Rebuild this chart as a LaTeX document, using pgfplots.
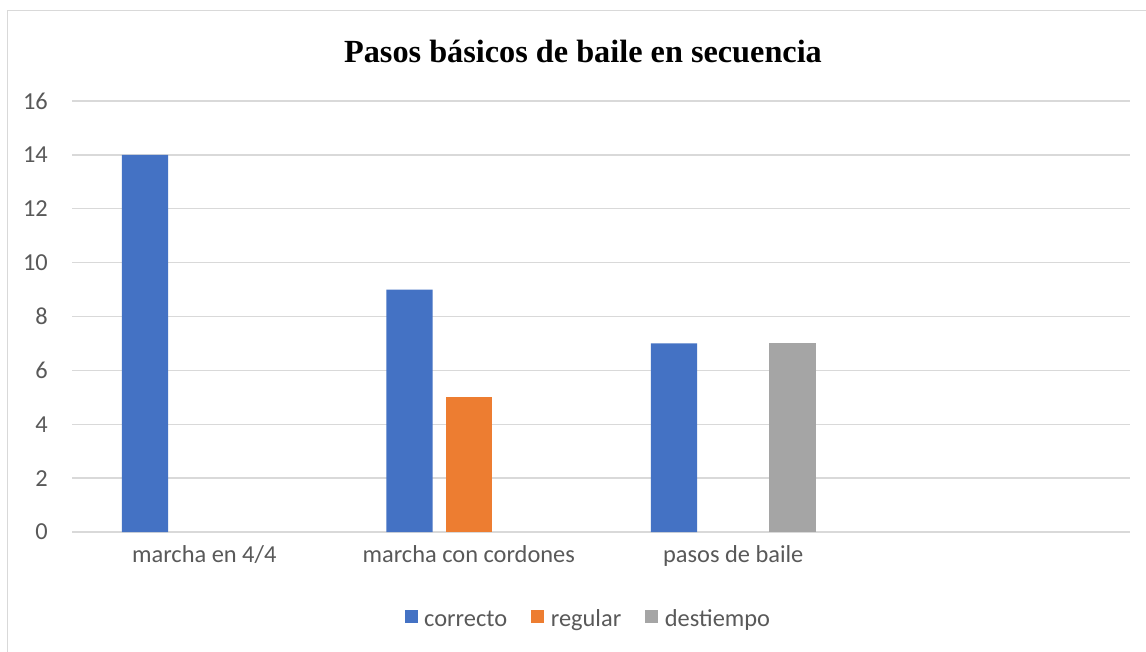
\documentclass[border=0pt]{standalone}
\usepackage{pgfplots}
\pgfplotsset{compat=1.18}
\usepackage{fontspec}
\setmainfont{Carlito}
\newfontfamily\titlefont{Liberation Serif}
\definecolor{cBlue}{HTML}{4472C4}
\definecolor{cOrange}{HTML}{ED7D31}
\definecolor{cGray}{HTML}{A5A5A5}
\definecolor{cGrid}{HTML}{D9D9D9}
\definecolor{cText}{HTML}{595959}
\begin{document}
\begin{tikzpicture}[x=0.75pt,y=0.75pt]
\path[use as bounding box] (0,0) rectangle (1146,651);
\fill[white] (0,0) rectangle (1146,651);
\draw[cGrid,line width=0.75pt] (7,-10) -- (7,640) -- (1160,640);
\node[font=\titlefont\bfseries\fontsize{24.2}{28}\selectfont,anchor=center] at (583,600) {Pasos básicos de baile en secuencia};
\begin{axis}[
  at={(54pt,89.25pt)}, anchor=south west,
  scale only axis, width=793.5pt, height=323.25pt,
  xmin=-0.5, xmax=3.5, ymin=0, ymax=16,
  ytick={0,2,...,16},
  xtick={0,1,2},
  xticklabels={marcha en 4/4, marcha con cordones, pasos de baile},
  axis line style={draw=none},
  axis x line*=bottom, axis y line*=left,
  x axis line style={draw=cGrid, line width=1pt},
  major tick length=0pt,
  ymajorgrids, grid style={cGrid, line width=1pt},
  tick label style={font=\fontsize{18.3}{21}\selectfont, text=cText},
  /pgf/number format/assume math mode=true,
  xticklabel style={anchor=base, yshift=-23pt},
  yticklabel style={anchor=east, inner sep=0pt, xshift=-18pt},
  ybar, bar width=0.174,
  legend style={at={(0.4877,-0.207)}, anchor=center, draw=none, fill=none,
    legend columns=3, font=\fontsize{18.3}{21}\selectfont, text=cText,
    nodes={inner sep=1pt, text height=9pt, text depth=3.5pt},
    /tikz/every odd column/.append style={column sep=4pt},
    /tikz/every even column/.append style={column sep=17pt},
    legend cell align=left},
  legend image code/.code={\fill[#1] (0pt,-0.6pt) rectangle (9.75pt,9.15pt);},
]
\addplot[fill=cBlue, draw=none, bar shift=-0.224] coordinates {(0,14) (1,9) (2,7)};
\addlegendentry{correcto}
\addplot[fill=cOrange, draw=none, bar shift=0] coordinates {(1,5)};
\addlegendentry{regular}
\addplot[fill=cGray, draw=none, bar shift=0.224] coordinates {(2,7)};
\addlegendentry{destiempo}
\end{axis}
\end{tikzpicture}
\end{document}
